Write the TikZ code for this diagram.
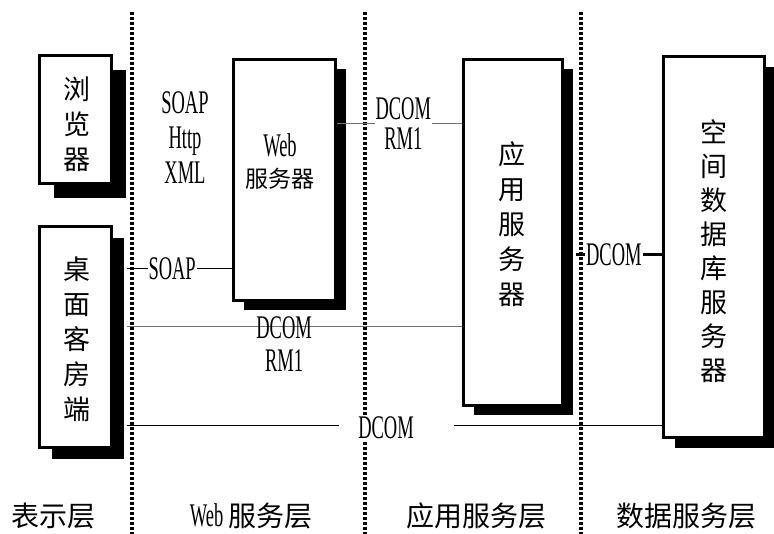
\documentclass[tikz,border=0pt]{standalone}
\usepackage{fontspec}
\setmainfont{Liberation Serif}[FakeStretch=0.56]
\newfontfamily\cjk{Noto Sans CJK SC}
\usetikzlibrary{shadows}
\tikzset{
  srvbox/.style={draw=black,line width=3pt,fill=white,inner sep=0pt,
    drop shadow={shadow xshift=#1,shadow yshift=-#1,fill=black,opacity=1}},
  srvbox/.default=10pt,
  boxtext/.style={font=\cjk\fontsize{27pt}{35pt}\selectfont,align=center},
  layertext/.style={font=\cjk\fontsize{28pt}{34pt}\selectfont},
  prototext/.style={font=\fontsize{33pt}{33pt}\selectfont,align=center,inner sep=1pt},
  tierline/.style={line width=4pt,dash pattern=on 3pt off 2pt},
  linkline/.style={line width=1pt},
  greyline/.style={line width=1pt,draw=black!55},
  dataline/.style={line width=3pt}
}
\begin{document}
\begin{tikzpicture}[x=1pt,y=-1pt]
  \useasboundingbox (0,0) rectangle (774,534);
  % tier separators
  \foreach \x in {132,365,581}
    \draw[tierline] (\x,12) -- (\x,534);
  % boxes
  \node[srvbox=14pt,minimum width=72pt,minimum height=128pt] (browser) at (75.5,120) {};
  \node[srvbox=12pt,minimum width=72pt,minimum height=221pt] (desk) at (75.5,337) {};
  \node[srvbox,minimum width=102pt,minimum height=241pt] (web) at (284.5,180) {};
  \node[srvbox,minimum width=99pt,minimum height=346pt] (app) at (513,232.5) {};
  \node[srvbox=11pt,minimum width=101pt,minimum height=381pt] (db) at (714,247) {};
  \node[boxtext] (browsertxt) at (77,124) {浏\\览\\器};
  \node[boxtext] (desktxt) at (77,339) {桌\\面\\客\\房\\端};
  \node[prototext] (webtxt) at (280,161) {Web\\[-2pt]{\cjk\fontsize{23pt}{30pt}\selectfont 服务器}};
  \node[boxtext] (apptxt) at (512,224) {应\\用\\服\\务\\器};
  \node[boxtext,font=\cjk\fontsize{27pt}{34pt}\selectfont] (dbtxt) at (714,251)
    {空\\间\\数\\据\\库\\服\\务\\器};
  \node[prototext,font=\fontsize{33pt}{35pt}\selectfont] (browserproto) at (185,138) {SOAP\\Http\\XML};
  % rows of the links
  \coordinate (rowweb) at (0,124);
  \coordinate (rowdata) at (0,255);
  \coordinate (rowsoap) at (0,269);
  \coordinate (rowrmi) at (0,327);
  \coordinate (rowdb) at (0,426);
  % links
  \draw[greyline] (web.east |- rowweb) -- node[prototext,fill=white,pos=.53,font=\fontsize{33pt}{30pt}\selectfont]
    (webrmi) {DCOM\\RM1} (app.west |- rowweb);
  \draw[linkline] ([xshift=14pt]desk.east |- rowsoap) -- node[prototext,fill=white,pos=.43]
    (soaplbl) {SOAP} (web.west |- rowsoap);
  \draw[greyline] ([xshift=14pt]desk.east |- rowrmi) -- node[prototext,pos=.469,yshift=-17pt]
    (deskrmi) {DCOM\\RM1} (app.west |- rowrmi);
  \draw[dataline] ([xshift=12pt]app.east |- rowdata) -- node[prototext,fill=white,pos=.44]
    (datalbl) {DCOM} (db.west |- rowdata);
  \node[prototext,fill=white] (dcomlow) at (386,428) {DCOM};
  \draw[linkline] ([xshift=14pt]desk.east |- rowdb) -- ([xshift=-47pt]dcomlow.center |- rowdb);
  \draw[linkline] ([xshift=68pt]dcomlow.center |- rowdb) -- (db.west |- rowdb);
  % layer names
  \node[layertext] (presentlayer) at (53.5,516) {表示层};
  \node[prototext] (weblayer) at (251,516) {Web {\cjk\fontsize{28pt}{34pt}\selectfont 服务层}};
  \node[layertext] (applayer) at (476.5,516) {应用服务层};
  \node[layertext] (datalayer) at (686.5,516) {数据服务层};
\end{tikzpicture}
\end{document}
